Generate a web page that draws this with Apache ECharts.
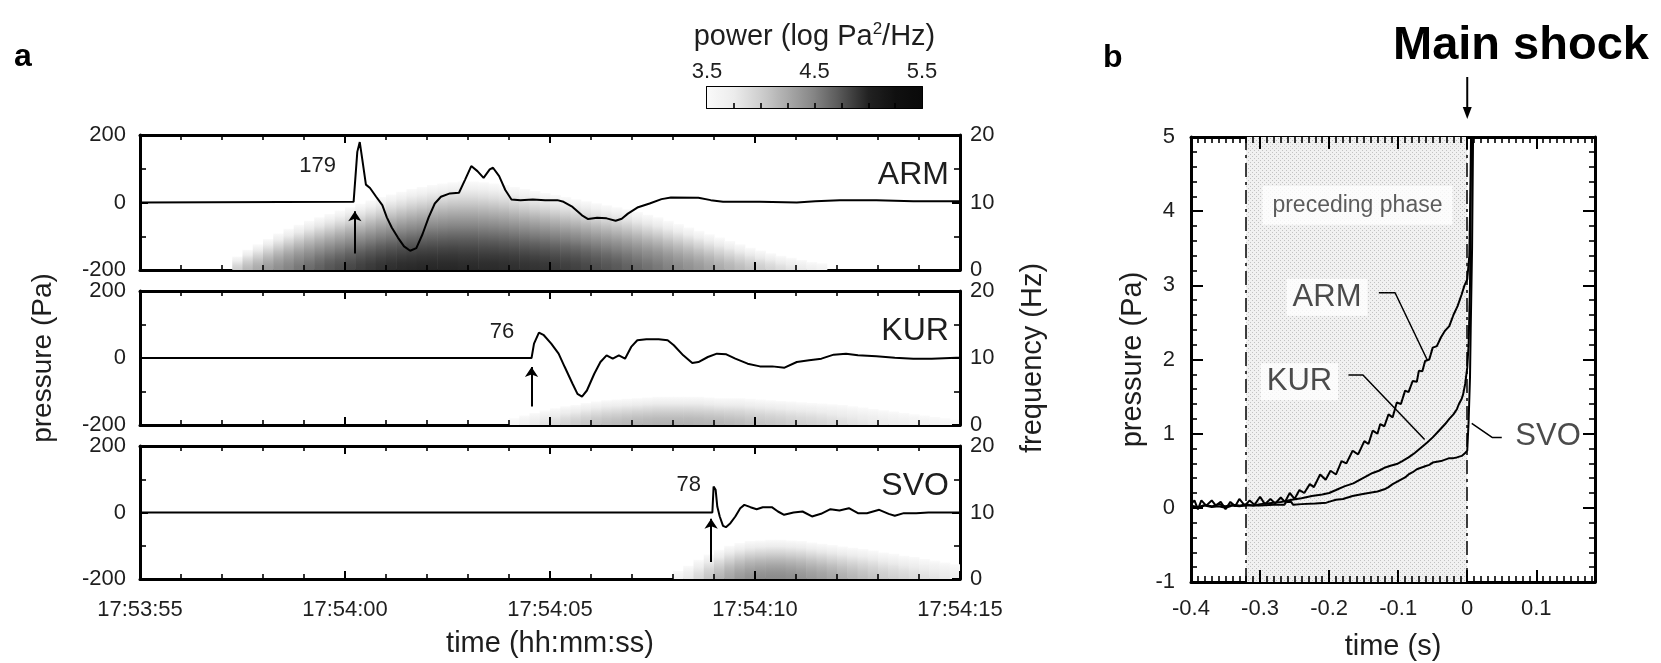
<!DOCTYPE html>
<html><head><meta charset="utf-8">
<script src="https://cdn.jsdelivr.net/npm/echarts/dist/echarts.min.js"></script>
<style>html,body{margin:0;padding:0;background:#fff}#c{width:1661px;height:663px}</style>
</head><body><div id="c"></div>
<script>
// ---------------- DATA ----------------
const timeTickLabels = ['17:53:55','17:54:00','17:54:05','17:54:10','17:54:15']; // seconds 0,5,10,15,20 after 17:53:55
const stations = ['ARM','KUR','SVO'];
const peakValues = [179, 76, 78];
const onsetTimes = [5.24, 9.55, 13.93];

// pressure traces, panel a: [seconds after 17:53:55, Pa]
const armTrace = [[0,0],[5.21,2],[5.30,150],[5.36,179],[5.42,129],[5.51,53],[5.61,43],[5.76,17],[5.91,-8],[6.02,-44],[6.14,-74],[6.29,-104],[6.44,-130],[6.59,-143],[6.74,-135],[6.89,-94],[7.04,-44],[7.19,-3],[7.34,17],[7.56,27],[7.78,29],[7.93,68],[8.08,108],[8.23,93],[8.38,73],[8.53,98],[8.61,103],[8.76,78],[8.91,37],[9.06,9],[9.28,7],[9.58,9],[9.88,7],[10.18,7],[10.33,2],[10.55,-13],[10.78,-38],[10.93,-49],[11.15,-45],[11.38,-47],[11.60,-54],[11.75,-48],[11.90,-33],[12.13,-15],[12.43,-3],[12.72,10],[12.95,15],[13.62,14],[13.92,7],[14.22,2],[15.12,2],[16.02,0],[16.47,4],[17.07,7],[17.96,7],[18.86,4],[19.91,4],[20,4]];
const kurTrace = [[0,0],[9.55,0],[9.61,43],[9.73,76],[9.85,68],[10.03,43],[10.21,13],[10.36,-27],[10.55,-77],[10.67,-107],[10.78,-115],[10.90,-97],[11.08,-47],[11.23,-12],[11.38,8],[11.53,-2],[11.68,8],[11.83,-2],[11.98,33],[12.13,53],[12.35,56],[12.65,56],[12.87,53],[13.02,38],[13.25,8],[13.47,-15],[13.62,-12],[13.85,3],[14.07,13],[14.30,11],[14.52,-2],[14.82,-17],[15.12,-25],[15.42,-25],[15.72,-29],[16.02,-12],[16.32,-7],[16.62,-2],[16.92,10],[17.22,13],[17.51,8],[17.96,5],[18.41,1],[18.86,-2],[19.31,-2],[19.91,1],[20,1]];
const svoTrace = [[0,0],[13.96,0],[13.99,78],[14.04,68],[14.08,18],[14.14,-12],[14.22,-40],[14.29,-44],[14.40,-32],[14.52,-12],[14.64,13],[14.74,23],[14.89,16],[15.04,10],[15.19,16],[15.41,16],[15.56,3],[15.71,-7],[15.94,0],[16.16,3],[16.39,-12],[16.61,-4],[16.84,10],[17.06,6],[17.29,13],[17.51,-2],[17.73,-2],[18.03,8],[18.26,-4],[18.41,-10],[18.63,-2],[18.93,-2],[19.23,0],[19.83,0],[20,0]];

// spectrogram columns: [bin start (s), power at 0 Hz (log Pa^2/Hz), frequency where it fades out (Hz)]
const binWidth = 0.25;
const specARM = [[2.25,4.0,2.0],[2.5,4.15,3.0],[2.75,4.25,3.8],[3.0,4.35,4.6],[3.25,4.43,5.4],[3.5,4.5,6.1],[3.75,4.57,6.7],[4.0,4.63,7.3],[4.25,4.69,7.8],[4.5,4.74,8.3],[4.75,4.78,8.8],[5.0,4.82,9.3],[5.25,4.86,9.8],[5.5,4.89,10.3],[5.75,4.92,10.8],[6.0,4.94,11.2],[6.25,4.96,11.6],[6.5,4.97,12.0],[6.75,4.98,12.3],[7.0,4.98,12.6],[7.25,4.98,12.8],[7.5,4.98,13.0],[7.75,4.97,13.1],[8.0,4.97,13.1],[8.25,4.96,13.0],[8.5,4.96,12.8],[8.75,4.95,12.6],[9.0,4.94,12.3],[9.25,4.93,12.0],[9.5,4.92,11.7],[9.75,4.91,11.4],[10.0,4.89,11.1],[10.25,4.87,10.8],[10.5,4.85,10.5],[10.75,4.82,10.2],[11.0,4.79,9.9],[11.25,4.76,9.6],[11.5,4.73,9.3],[11.75,4.69,9.0],[12.0,4.65,8.6],[12.25,4.61,8.2],[12.5,4.57,7.8],[12.75,4.52,7.3],[13.0,4.47,6.8],[13.25,4.42,6.3],[13.5,4.37,5.8],[13.75,4.31,5.3],[14.0,4.25,4.8],[14.25,4.19,4.3],[14.5,4.13,3.8],[14.75,4.07,3.3],[15.0,4.01,2.9],[15.25,3.95,2.5],[15.5,3.89,2.1],[15.75,3.83,1.8],[16.0,3.77,1.5],[16.25,3.7,1.2],[16.5,3.64,1.0]];
const specKUR = [[9.0,3.6,1.0],[9.25,3.68,1.4],[9.5,3.76,1.8],[9.75,3.84,2.2],[10.0,3.9,2.5],[10.25,3.96,2.8],[10.5,4.01,3.0],[10.75,4.05,3.3],[11.0,4.09,3.5],[11.25,4.12,3.7],[11.5,4.14,3.8],[11.75,4.16,3.9],[12.0,4.18,4.0],[12.25,4.19,4.1],[12.5,4.2,4.2],[12.75,4.2,4.2],[13.0,4.2,4.2],[13.25,4.2,4.2],[13.5,4.19,4.2],[13.75,4.18,4.1],[14.0,4.17,4.0],[14.25,4.15,4.0],[14.5,4.13,4.0],[14.75,4.1,3.9],[15.0,4.07,3.8],[15.25,4.05,3.7],[15.5,4.03,3.6],[15.75,4.0,3.5],[16.0,3.98,3.4],[16.25,3.96,3.3],[16.5,3.93,3.2],[16.75,3.9,3.1],[17.0,3.87,3.0],[17.25,3.84,2.8],[17.5,3.81,2.6],[17.75,3.78,2.4],[18.0,3.75,2.2],[18.25,3.72,2.0],[18.5,3.7,1.8],[18.75,3.67,1.6],[19.0,3.65,1.4],[19.25,3.62,1.2],[19.5,3.6,1.0],[19.75,3.58,0.8]];
const specSVO = [[13.0,3.65,1.2],[13.25,3.78,2.0],[13.5,3.92,2.9],[13.75,4.06,3.7],[14.0,4.18,4.4],[14.25,4.28,5.0],[14.5,4.36,5.4],[14.75,4.41,5.7],[15.0,4.44,5.8],[15.25,4.45,5.9],[15.5,4.45,5.9],[15.75,4.43,5.8],[16.0,4.4,5.7],[16.25,4.36,5.5],[16.5,4.32,5.3],[16.75,4.27,5.1],[17.0,4.22,4.9],[17.25,4.17,4.7],[17.5,4.12,4.5],[17.75,4.07,4.3],[18.0,4.02,4.0],[18.25,3.98,3.8],[18.5,3.94,3.5],[18.75,3.9,3.3],[19.0,3.86,3.0],[19.25,3.82,2.8],[19.5,3.77,2.5],[19.75,3.72,2.2]];

// panel b: [s relative to main shock, Pa]
const armB = [[-0.4,0.05],[-0.395,0.1],[-0.39,-0.02],[-0.385,0.1],[-0.378,0.03],[-0.37,0.1],[-0.364,0.03],[-0.357,0.08],[-0.35,-0.02],[-0.343,0.08],[-0.336,0.02],[-0.33,0.12],[-0.322,0.03],[-0.315,0.1],[-0.308,0.04],[-0.3,0.15],[-0.293,0.05],[-0.285,0.12],[-0.278,0.06],[-0.27,0.14],[-0.264,0.08],[-0.257,0.2],[-0.25,0.12],[-0.243,0.24],[-0.236,0.2],[-0.228,0.32],[-0.222,0.28],[-0.213,0.45],[-0.205,0.38],[-0.198,0.5],[-0.19,0.45],[-0.182,0.63],[-0.175,0.6],[-0.166,0.77],[-0.158,0.72],[-0.149,0.9],[-0.143,0.86],[-0.137,1.04],[-0.13,1.0],[-0.126,1.13],[-0.12,1.1],[-0.114,1.26],[-0.108,1.22],[-0.102,1.42],[-0.096,1.4],[-0.09,1.58],[-0.085,1.56],[-0.079,1.71],[-0.073,1.7],[-0.07,1.85],[-0.065,1.84],[-0.061,1.98],[-0.055,2.0],[-0.05,2.16],[-0.044,2.18],[-0.038,2.3],[-0.032,2.39],[-0.026,2.45],[-0.02,2.6],[-0.014,2.72],[-0.008,2.88],[-0.004,3.0],[0,3.08],[0.003,3.4],[0.005,4.5],[0.006,5.6]];
const kurB = [[-0.4,0.03],[-0.39,0.01],[-0.38,0.04],[-0.37,0.02],[-0.36,0.05],[-0.35,0.02],[-0.34,0.04],[-0.33,0.03],[-0.32,0.05],[-0.31,0.03],[-0.3,0.05],[-0.29,0.06],[-0.28,0.07],[-0.27,0.08],[-0.254,0.11],[-0.24,0.13],[-0.225,0.16],[-0.21,0.18],[-0.2,0.2],[-0.19,0.24],[-0.178,0.29],[-0.165,0.33],[-0.155,0.38],[-0.145,0.43],[-0.137,0.47],[-0.128,0.5],[-0.12,0.54],[-0.11,0.57],[-0.102,0.59],[-0.094,0.63],[-0.085,0.68],[-0.076,0.74],[-0.067,0.81],[-0.058,0.88],[-0.05,0.95],[-0.041,1.04],[-0.032,1.13],[-0.026,1.2],[-0.02,1.26],[-0.015,1.33],[-0.012,1.4],[-0.008,1.47],[-0.006,1.53],[-0.003,1.67],[0,1.89],[0.002,2.2],[0.004,3.0],[0.005,4.2],[0.006,5.6]];
const svoB = [[-0.4,0.02],[-0.39,0.0],[-0.38,0.03],[-0.37,0.01],[-0.36,0.02],[-0.35,0.0],[-0.34,0.03],[-0.33,0.02],[-0.32,0.03],[-0.3,0.03],[-0.28,0.04],[-0.265,0.04],[-0.262,0.08],[-0.255,0.08],[-0.252,0.04],[-0.24,0.05],[-0.22,0.06],[-0.204,0.07],[-0.197,0.09],[-0.19,0.11],[-0.18,0.12],[-0.166,0.16],[-0.155,0.18],[-0.143,0.2],[-0.13,0.22],[-0.12,0.25],[-0.114,0.28],[-0.108,0.32],[-0.102,0.35],[-0.096,0.38],[-0.09,0.41],[-0.085,0.45],[-0.079,0.48],[-0.073,0.52],[-0.067,0.54],[-0.061,0.56],[-0.055,0.58],[-0.05,0.61],[-0.044,0.62],[-0.038,0.63],[-0.032,0.65],[-0.026,0.67],[-0.02,0.67],[-0.015,0.68],[-0.008,0.7],[-0.003,0.74],[0,0.77],[0.002,1.17],[0.004,1.76],[0.005,2.39],[0.007,3.5],[0.009,5.6]];
const precedingPhase = [-0.32, 0];

// ---------------- STYLE HELPERS ----------------
const FONT = "'Liberation Sans', Arial, Helvetica, sans-serif";
const TXT = '#1e1e1e';
const grayStops = [[3.5,250],[3.75,236],[4.0,206],[4.25,170],[4.5,132],[4.75,84],[5.0,34],[5.25,16],[5.5,10]];
function grayOf(v){
  if (v <= grayStops[0][0]) return 'rgb(250,250,250)';
  for (let i=1;i<grayStops.length;i++){
    if (v <= grayStops[i][0]){
      const a = grayStops[i-1], b = grayStops[i];
      const g = Math.round(a[1] + (b[1]-a[1])*(v-a[0])/(b[0]-a[0]));
      return 'rgb('+g+','+g+','+g+')';
    }
  }
  return 'rgb(10,10,10)';
}
function specRender(params, api){
  const t0 = api.value(0), p = api.value(1), f = api.value(2);
  const a = api.coord([t0, 0]), b = api.coord([t0 + binWidth, f]);
  const stops = [];
  for (let i=0;i<=12;i++){ const s = i/12; stops.push({offset:s, color:grayOf(p - (p-3.5)*Math.pow(s,1.6))}); }
  return {type:'rect', shape:{x:a[0], y:b[1], width:b[0]-a[0]+0.6, height:a[1]-b[1]},
          style:{fill:new echarts.graphic.LinearGradient(0,1,0,0,stops)}};
}
function tickList(min, max, step, every, majorLen, minorLen){
  const out = []; const n = Math.round((max-min)/step);
  for (let i=0;i<=n;i++){ const v = +(min + i*step).toFixed(6); out.push([v, (i % every === 0) ? majorLen : minorLen]); }
  return out;
}
// inward tick marks as a 'lines' series in data units (placed through the axes' scales)
function tickLinesSeries(xi, yi, xr, yr, wPx, hPx, xTicks, yTicks, sides){
  const sd = sides || {bottom:true, top:true, left:true, right:true};
  const ux = (xr[1]-xr[0])/wPx, uy = (yr[1]-yr[0])/hPx;
  const d = [];
  const item = (a, b, len)=>({coords:[a, b], lineStyle:{width: len > 6 ? 2 : 1.6, color:'#000', opacity:1}});
  xTicks.forEach(([v,len])=>{
    if (sd.bottom) d.push(item([v, yr[0]], [v, yr[0]+len*uy], len));
    if (sd.top) d.push(item([v, yr[1]], [v, yr[1]-len*uy], len));
  });
  yTicks.forEach(([v,len])=>{
    if (sd.left) d.push(item([xr[0], v], [xr[0]+len*ux, v], len));
    if (sd.right) d.push(item([xr[1], v], [xr[1]-len*ux, v], len));
  });
  return {type:'lines', name:'ticks', coordinateSystem:'cartesian2d', xAxisIndex:xi, yAxisIndex:yi,
    polyline:false, large:false, silent:true, animation:false, z:20, clip:false,
    effect:{show:false}, symbol:'none',
    lineStyle:{color:'#000', width:1.6, opacity:1, curveness:0}, data:d};
}

const chart = echarts.init(document.getElementById('c'), null, {renderer:'canvas'});
const panelTops = [135, 291, 446], panelHeights = [135, 134, 133];
const grids = [], xAxes = [], yAxes = [], series = [];
const labelBase = {fontFamily:FONT, color:TXT};
const noTick = {show:false}, noMinor = {show:false};
function frame(w){ return {show:true, onZero:false, lineStyle:{color:'#000', width:w}}; }

const traces = [armTrace, kurTrace, svoTrace];
const specs = [specARM, specKUR, specSVO];
const arrowRanges = [[-151,-26],[-145,-27],[-149,-19]];
const peakLabelPos = [[4.78,107],[9.13,77],[13.68,82]];

for (let k=0;k<3;k++){
  grids.push({left:140, top:panelTops[k], width:820, height:panelHeights[k], show:false, outerBoundsMode:'none', containLabel:false});
  const xb = {type:'value', gridIndex:k, position:'bottom', min:0, max:20, interval:5,
    axisLine:frame(3), splitLine:{show:false}, axisTick:noTick, minorTick:noMinor,
    axisLabel:{show:k===2, margin:20, fontSize:22, ...labelBase, formatter:v=>timeTickLabels[Math.round(v/5)]}};
  if (k===2){ xb.name='time (hh:mm:ss)'; xb.nameLocation='middle'; xb.nameGap=50; xb.nameTextStyle={fontSize:29, ...labelBase}; }
  xAxes.push(xb);
  xAxes.push({type:'value', gridIndex:k, position:'top', min:0, max:20, interval:5,
    axisLine:frame(3), splitLine:{show:false}, axisLabel:{show:false}, axisTick:noTick, minorTick:noMinor});
  const yl = {type:'value', gridIndex:k, position:'left', min:-200, max:200, interval:200,
    axisLine:frame(3), splitLine:{show:false}, axisTick:noTick, minorTick:noMinor,
    axisLabel:{margin:14, fontSize:22, ...labelBase}};
  const yr = {type:'value', gridIndex:k, position:'right', min:0, max:20, interval:10,
    axisLine:frame(3), splitLine:{show:false}, axisTick:noTick, minorTick:noMinor,
    axisLabel:{margin:10, fontSize:22, ...labelBase}};
  if (k===1){
    yl.name='pressure (Pa)'; yl.nameLocation='middle'; yl.nameRotate=90; yl.nameGap=83; yl.nameTextStyle={fontSize:28, ...labelBase};
    yr.name='frequency (Hz)'; yr.nameLocation='middle'; yr.nameRotate=90; yr.nameGap=58; yr.nameTextStyle={fontSize:29, ...labelBase};
  }
  yAxes.push(yl); yAxes.push(yr);

  series.push({type:'custom', name:'spectrogram '+stations[k], xAxisIndex:2*k, yAxisIndex:2*k+1,
    data:specs[k], renderItem:specRender, clip:true, silent:true, z:1, animation:false});

  const t = onsetTimes[k];
  series.push({type:'line', name:stations[k], xAxisIndex:2*k, yAxisIndex:2*k, data:traces[k],
    showSymbol:false, symbol:'none', lineStyle:{color:'#000', width:2}, z:5, animation:false, silent:true,
    markLine:{silent:true, animation:false, symbol:['none','arrow'], symbolSize:10,
      lineStyle:{color:'#000', width:2, type:'solid'}, label:{show:false},
      data:[[{coord:[t, arrowRanges[k][0]]},{coord:[t, arrowRanges[k][1]]}]]},
    markPoint:{silent:true, animation:false, symbol:'circle', symbolSize:0,
      data:[
        {name:String(peakValues[k]), coord:peakLabelPos[k], label:{show:true, formatter:'{b}', position:'left', distance:0, fontSize:22, ...labelBase}},
        {name:stations[k], coord:[19.73, 80], label:{show:true, formatter:'{b}', position:'left', distance:0, fontSize:32, ...labelBase}}
      ]}
  });
  series.push(tickLinesSeries(2*k, 2*k, [0,20], [-200,200], 820, panelHeights[k], tickList(0,20,1,5,8,5), tickList(-200,200,100,2,8,6)));
}

// colour bar (grid 3)
grids.push({left:707, top:87, width:215, height:21, show:false, outerBoundsMode:'none'});
xAxes.push({type:'value', gridIndex:3, position:'top', min:3.5, max:5.5, interval:0.5,
  axisLine:frame(2), splitLine:{show:false}, axisTick:noTick, minorTick:noMinor,
  axisLabel:{margin:4, fontSize:22, ...labelBase, formatter:v=>(Math.abs(v-3.5)<1e-6||Math.abs(v-4.5)<1e-6||Math.abs(v-5.5)<1e-6)?v.toFixed(1):''},
  name:'power (log Pa{sup|2}/Hz)', nameLocation:'middle', nameGap:35,
  nameTextStyle:{fontSize:29, ...labelBase, rich:{sup:{fontSize:17, verticalAlign:'top', fontFamily:FONT, color:TXT, padding:[0,0,14,0]}}}});
xAxes.push({type:'value', gridIndex:3, position:'bottom', min:3.5, max:5.5, interval:0.25,
  axisLine:frame(2), splitLine:{show:false}, axisLabel:{show:false}, axisTick:noTick, minorTick:noMinor});
yAxes.push({type:'value', gridIndex:3, position:'left', min:0, max:1, axisLine:frame(2), axisTick:noTick, axisLabel:{show:false}, splitLine:{show:false}});
yAxes.push({type:'value', gridIndex:3, position:'right', min:0, max:1, axisLine:frame(2), axisTick:noTick, axisLabel:{show:false}, splitLine:{show:false}});
series.push({type:'custom', name:'colorbar', xAxisIndex:6, yAxisIndex:6, data:[[3.5,5.5]], silent:true, animation:false, z:1,
  renderItem:(params, api)=>{
    const a = api.coord([api.value(0), 0]), b = api.coord([api.value(1), 1]);
    const stops = [];
    for (let i=0;i<=40;i++){ const s=i/40; stops.push({offset:s, color:grayOf(api.value(0)+(api.value(1)-api.value(0))*s)}); }
    return {type:'rect', shape:{x:a[0], y:b[1], width:b[0]-a[0], height:a[1]-b[1]}, style:{fill:new echarts.graphic.LinearGradient(0,0,1,0,stops)}};
  }});
series.push(tickLinesSeries(6, 6, [3.5,5.5], [0,1], 215, 21, tickList(3.75,5.25,0.25,100,5,5), [], {bottom:true}));

// panel b (grid 4)
grids.push({left:1191, top:137, width:404, height:445, show:false, outerBoundsMode:'none'});
xAxes.push({type:'value', gridIndex:4, position:'bottom', min:-0.4, max:0.185, interval:0.1,
  axisLine:frame(3), splitLine:{show:false}, axisTick:noTick, minorTick:noMinor,
  axisLabel:{margin:16, fontSize:22, showMaxLabel:false, ...labelBase},
  name:'time (s)', nameLocation:'middle', nameGap:50, nameTextStyle:{fontSize:29, ...labelBase}});
xAxes.push({type:'value', gridIndex:4, position:'top', min:-0.4, max:0.185, interval:0.1,
  axisLine:frame(3), splitLine:{show:false}, axisLabel:{show:false}, axisTick:noTick, minorTick:noMinor});
yAxes.push({type:'value', gridIndex:4, position:'left', min:-1, max:5, interval:1,
  axisLine:frame(3), splitLine:{show:false}, axisTick:noTick, minorTick:noMinor,
  axisLabel:{margin:16, fontSize:22, ...labelBase},
  name:'pressure (Pa)', nameLocation:'middle', nameRotate:90, nameGap:44, nameTextStyle:{fontSize:29, ...labelBase}});
yAxes.push({type:'value', gridIndex:4, position:'right', min:-1, max:5, interval:1,
  axisLine:frame(3), splitLine:{show:false}, axisLabel:{show:false}, axisTick:noTick, minorTick:noMinor});

const pat = document.createElement('canvas'); pat.width = 4; pat.height = 4;
const pg = pat.getContext('2d'); pg.fillStyle = '#f1f1f1'; pg.fillRect(0,0,4,4);
pg.fillStyle = '#c2c2c2'; pg.fillRect(0,0,1,1); pg.fillRect(2,2,1,1);

const bLines = [armB, kurB, svoB];
for (let i=0;i<3;i++){
  const s = {type:'line', name:stations[i]+' b', xAxisIndex:8, yAxisIndex:8, data:bLines[i], showSymbol:false, symbol:'none',
    lineStyle:{color:'#000', width:2}, clip:true, z:5, animation:false, silent:true};
  if (i===0){
    s.markArea = {silent:true, animation:false, itemStyle:{color:{image:pat, repeat:'repeat'}},
      data:[[{xAxis:precedingPhase[0]},{xAxis:precedingPhase[1]}]]};
    s.markLine = {silent:true, animation:false, symbol:'none', label:{show:false},
      lineStyle:{color:'#000', width:1.5, type:[14,5,3,5]},
      data:[{xAxis:precedingPhase[0]},{xAxis:precedingPhase[1]}]};
  }
  series.push(s);
}
series.push(tickLinesSeries(8, 8, [-0.4,0.185], [-1,5], 404, 445, tickList(-0.4,0.18,0.01,10,12,6), tickList(-1,5,0.2,5,12,6)));
// leader lines
const leaders = [
  [[-0.128,2.90],[-0.1045,2.90],[-0.0577,1.99]],
  [[-0.172,1.79],[-0.151,1.79],[-0.0617,0.92]],
  [[0.0065,1.14],[0.036,0.95],[0.05,0.95]]
];
leaders.forEach((d,i)=>series.push({type:'line', name:'leader '+i, xAxisIndex:8, yAxisIndex:8, data:d, showSymbol:false, symbol:'none',
  lineStyle:{color:'#000', width:1.5}, z:6, animation:false, silent:true}));
series.push({type:'scatter', name:'labels b', xAxisIndex:8, yAxisIndex:8, symbolSize:0, z:7, silent:true, animation:false,
  label:{show:true, formatter:'{b}', position:'inside', fontSize:31, ...labelBase, backgroundColor:'#fff', padding:[3,6]},
  data:[
    {name:'ARM', value:[-0.203,2.84]},
    {name:'KUR', value:[-0.243,1.70]},
    {name:'SVO', value:[0.117,0.96]},
    {name:'preceding phase', value:[-0.159,4.08], label:{fontSize:23, color:'#333', padding:[8,10]}}
  ]});

chart.setOption({
  animation:false,
  backgroundColor:'#fff',
  title:[
    {text:'a', left:9, top:36, textStyle:{fontSize:32, fontWeight:'bold', fontFamily:FONT, color:'#000'}},
    {text:'b', left:1098, top:37, textStyle:{fontSize:32, fontWeight:'bold', fontFamily:FONT, color:'#000'}},
    {text:'Main shock', left:1388, top:18, textStyle:{fontSize:47, fontWeight:'bold', fontFamily:FONT, color:'#000'}}
  ],
  grid:grids, xAxis:xAxes, yAxis:yAxes, series:series
});

// arrow above panel b pointing at the main shock (t = 0)
const p0 = chart.convertToPixel({xAxisIndex:8, yAxisIndex:8}, [0, 5]);
chart.setOption({graphic:[
  {type:'line', z:100, shape:{x1:p0[0], y1:p0[1]-60, x2:p0[0], y2:p0[1]-26}, style:{stroke:'#000', lineWidth:2}, silent:true},
  {type:'polygon', z:100, shape:{points:[[p0[0]-4.5,p0[1]-30],[p0[0]+4.5,p0[1]-30],[p0[0],p0[1]-18]]}, style:{fill:'#000'}, silent:true}
]});
</script>
</body></html>
